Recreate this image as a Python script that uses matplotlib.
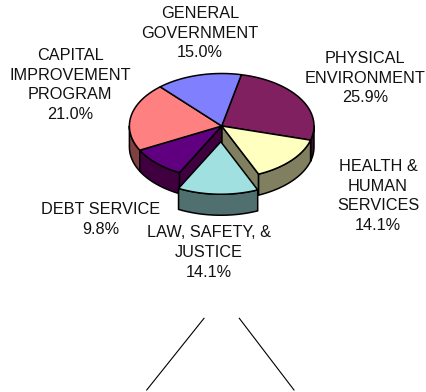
import numpy as np
import matplotlib
matplotlib.use("Agg")
import matplotlib.pyplot as plt
from matplotlib.patches import Polygon

plt.rcParams['font.family'] = ['Liberation Sans', 'DejaVu Sans']

# budget shares, clockwise starting from the physical environment slice
labels = ['PHYSICAL\nENVIRONMENT\n25.9%', 'HEALTH &\nHUMAN\nSERVICES\n14.1%',
          'LAW, SAFETY, &\nJUSTICE\n14.1%', 'DEBT SERVICE\n9.8%',
          'CAPITAL\nIMPROVEMENT\nPROGRAM\n21.0%', 'GENERAL\nGOVERNMENT\n15.0%']
shares = [25.9, 14.1, 14.1, 9.8, 21.0, 15.0]
top_colors = ['#802060', '#FFFFC0', '#A0E0E0', '#600080', '#FF8080', '#8080FF']
side_colors = ['#401030', '#808060', '#507070', '#400040', '#804040', '#404080']
label_pos = [(365, 78), (378, 196), (209, 252.5), (101, 219.5), (70, 85), (200, 33)]

# pie geometry in pixels
cx, cy = 221.7, 126.0
rx, ry = 92.3, 52.5
depth = 21.0
start_angle = 77.7
exploded = 2
explode_frac = 0.30
edge_width = 1.1

# the two lines below the chart
left_line = ([204, 146.7], [318.3, 390])
right_line = ([239.3, 294], [318.3, 390])


def rim(a1, a2, x0, y0):
    t = np.radians(np.linspace(a1, a2, 80))
    return np.column_stack([x0 + rx * np.cos(t), y0 - ry * np.sin(t)])


def draw_slice_sides(ax, a1, a2, x0, y0, color):
    # radial walls first, only the ones facing the viewer
    for a, facing in ((a1, np.cos(np.radians(a1)) < 0), (a2, np.cos(np.radians(a2)) > 0)):
        edge = rim(a, a, x0, y0)[0]
        wall = [(x0, y0), edge, edge + [0, depth], (x0, y0 + depth)]
        if facing:
            ax.add_patch(Polygon(wall, fc=color, ec='black', lw=edge_width, joinstyle='round'))
    # outer wall, front half of the ellipse only
    lo, hi = max(a2, -180), min(a1, 0)
    if lo < hi:
        arc = rim(hi, lo, x0, y0)
        wall = np.vstack([arc, arc[::-1] + [0, depth]])
        ax.add_patch(Polygon(wall, fc=color, ec='black', lw=edge_width, joinstyle='round'))


def draw_slice_top(ax, a1, a2, x0, y0, color):
    pts = np.vstack([[x0, y0], rim(a1, a2, x0, y0)])
    ax.add_patch(Polygon(pts, fc=color, ec='black', lw=edge_width, joinstyle='round'))


fig = plt.figure(figsize=(4.26, 3.92), dpi=100)
ax = fig.add_axes([0, 0, 1, 1])
ax.set_xlim(0, 426)
ax.set_ylim(392, 0)
ax.axis('off')

# turn the shares into angles, going clockwise
sweeps = np.array(shares) / sum(shares) * 360
ends = start_angle - np.cumsum(sweeps)
starts = ends + sweeps

# back to front: right and left edges, then the slices next to the gap
for i in (0, 4, 1, 3):
    draw_slice_sides(ax, starts[i], ends[i], cx, cy, side_colors[i])
for i in range(len(shares)):
    if i != exploded:
        draw_slice_top(ax, starts[i], ends[i], cx, cy, top_colors[i])

# law & justice slice is pulled out of the pie
mid = np.radians((starts[exploded] + ends[exploded]) / 2)
ex = cx + explode_frac * rx * np.cos(mid)
ey = cy - explode_frac * ry * np.sin(mid)
draw_slice_sides(ax, starts[exploded], ends[exploded], ex, ey, side_colors[exploded])
draw_slice_top(ax, starts[exploded], ends[exploded], ex, ey, top_colors[exploded])

for text, (x, y) in zip(labels, label_pos):
    ax.text(x, y, text, ha='center', va='center', fontsize=11.7, linespacing=1.38, color='#111111')

ax.plot(*left_line, color='black', lw=0.8)
ax.plot(*right_line, color='black', lw=0.8)

fig.savefig('out.png', dpi=100)
